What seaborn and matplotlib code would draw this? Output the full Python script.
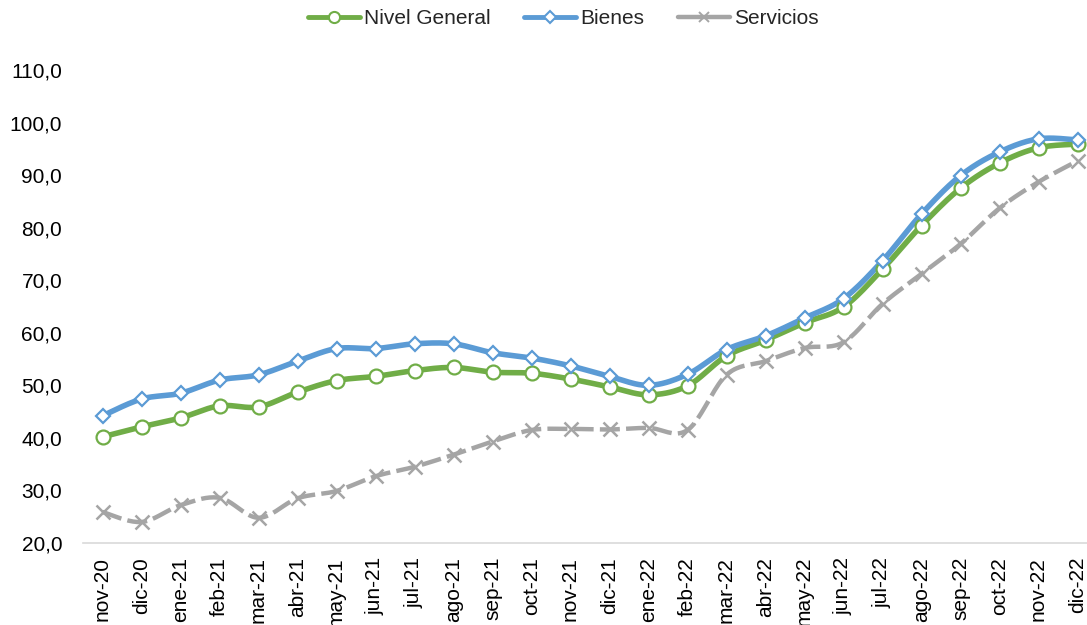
import numpy as np
import pandas as pd
import seaborn as sns
import matplotlib.pyplot as plt
from matplotlib.lines import Line2D
from matplotlib.ticker import FuncFormatter

months = ["nov-20", "dic-20", "ene-21", "feb-21", "mar-21", "abr-21", "may-21",
          "jun-21", "jul-21", "ago-21", "sep-21", "oct-21", "nov-21", "dic-21",
          "ene-22", "feb-22", "mar-22", "abr-22", "may-22", "jun-22", "jul-22",
          "ago-22", "sep-22", "oct-22", "nov-22", "dic-22"]

nivel_general = [40.2, 42.1, 43.8, 46.1, 45.9, 48.7, 50.9, 51.7, 52.8, 53.4, 52.5,
                 52.3, 51.2, 49.7, 48.2, 49.9, 55.6, 58.6, 61.9, 64.9, 72.1, 80.4,
                 87.5, 92.3, 95.2, 95.9]
bienes = [44.2, 47.4, 48.5, 51.0, 52.0, 54.6, 57.0, 57.0, 57.9, 57.9, 56.2, 55.2,
          53.7, 51.7, 50.0, 52.1, 56.8, 59.4, 62.8, 66.5, 73.7, 82.6, 89.9, 94.4,
          96.9, 96.7]
servicios = [25.9, 24.0, 27.2, 28.6, 24.8, 28.5, 29.9, 32.7, 34.5, 36.8, 39.3, 41.5,
             41.7, 41.6, 41.9, 41.5, 52.0, 54.6, 57.1, 58.2, 65.5, 71.2, 76.9, 83.7,
             88.7, 92.7]

GREEN = "#70AD47"
BLUE = "#5B9BD5"
GREY = "#A5A5A5"


def smooth(y, n=20):
    # catmull-rom style smoothing, like the "smoothed line" option in excel
    y = np.asarray(y, dtype=float)
    x = np.arange(len(y), dtype=float)
    p = np.concatenate([[y[0]], y, [y[-1]]])
    px = np.concatenate([[x[0]], x, [x[-1]]])
    xs, ys = [], []
    t = np.linspace(0, 1, n, endpoint=False)
    for i in range(len(y) - 1):
        x0, x1, x2, x3 = px[i], px[i + 1], px[i + 2], px[i + 3]
        y0, y1, y2, y3 = p[i], p[i + 1], p[i + 2], p[i + 3]
        cx1, cy1 = x1 + (x2 - x0) / 6, y1 + (y2 - y0) / 6
        cx2, cy2 = x2 - (x3 - x1) / 6, y2 - (y3 - y1) / 6
        bx = (1 - t) ** 3 * x1 + 3 * (1 - t) ** 2 * t * cx1 + 3 * (1 - t) * t ** 2 * cx2 + t ** 3 * x2
        by = (1 - t) ** 3 * y1 + 3 * (1 - t) ** 2 * t * cy1 + 3 * (1 - t) * t ** 2 * cy2 + t ** 3 * y2
        xs.append(bx)
        ys.append(by)
    xs.append([x[-1]])
    ys.append([y[-1]])
    return np.concatenate(xs), np.concatenate(ys)


sns.set_theme(style="white")
plt.rcParams["font.family"] = ["Liberation Sans", "DejaVu Sans"]

fig = plt.figure(figsize=(10.87, 6.25), dpi=100)
ax = fig.add_axes([83 / 1087, 1 - 543 / 625, 1014 / 1087, (543 - 70) / 625])

series = [
    ("Nivel General", nivel_general, GREEN, "o", 10, "-", 4),
    ("Bienes", bienes, BLUE, "D", 7.5, "-", 4),
    ("Servicios", servicios, GREY, "x", 10, (0, (4.5, 1.4)), 3.2),
]

# lines first (grey at the back), then markers on top
for z, (name, vals, col, mk, ms, ls, lw) in zip([2, 3, 1], series):
    sx, sy = smooth(vals)
    sns.lineplot(x=sx, y=sy, ax=ax, color=col, linewidth=lw, linestyle=ls,
                 sort=False, estimator=None, zorder=z)

for z, (name, vals, col, mk, ms, ls, lw) in zip([6, 7, 5], series):
    idx = np.arange(len(vals))
    if mk == "x":
        ax.plot(idx, vals, linestyle="none", marker=mk, markersize=ms,
                markeredgecolor=col, markeredgewidth=1.8, zorder=z)
    else:
        ax.plot(idx, vals, linestyle="none", marker=mk, markersize=ms,
                markerfacecolor="white", markeredgecolor=col,
                markeredgewidth=1.6, zorder=z)

ax.set_xlim(-0.5, len(months) - 0.5)
ax.set_ylim(20, 110)
ax.set_yticks(np.arange(20, 111, 10))
ax.yaxis.set_major_formatter(FuncFormatter(lambda v, _: f"{v:.1f}".replace(".", ",")))
ax.set_xticks(np.arange(len(months)))
ax.set_xticklabels(months, rotation=90)
ax.tick_params(axis="y", length=0, pad=15, labelsize=15, colors="#000000")
ax.tick_params(axis="x", length=0, pad=10, labelsize=15, colors="#000000")
ax.set_xlabel("")
ax.set_ylabel("")

for s in ["top", "right", "left"]:
    ax.spines[s].set_visible(False)
ax.spines["bottom"].set_color("#D9D9D9")
ax.spines["bottom"].set_linewidth(1.2)
ax.grid(False)

handles = []
for name, vals, col, mk, ms, ls, lw in series:
    if mk == "x":
        h = Line2D([], [], color=col, linewidth=lw, marker=mk, markersize=7,
                   markeredgecolor=col, markeredgewidth=1.4)
    else:
        h = Line2D([], [], color=col, linewidth=3.5, marker=mk,
                   markersize=8 if mk == "o" else 6, markerfacecolor="white",
                   markeredgecolor=col, markeredgewidth=1.5)
    handles.append(h)

fig.legend(handles, [s[0] for s in series], loc="center", bbox_to_anchor=(0.518, 0.97),
           ncol=3, frameon=False, fontsize=15, handlelength=2.5,
           columnspacing=1.6, handletextpad=0.2)

fig.savefig("out.png", dpi=100)
